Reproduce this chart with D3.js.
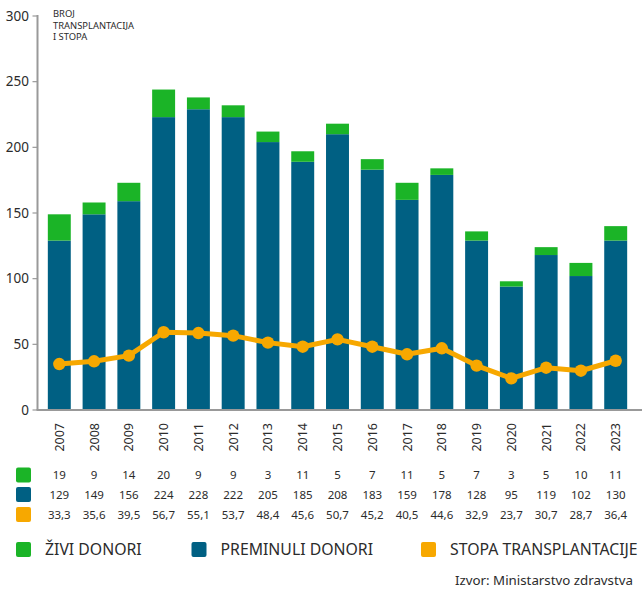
<!DOCTYPE html>
<html>
<head>
<meta charset="utf-8">
<script src="https://cdn.jsdelivr.net/npm/d3@7"></script>
<style>
  html, body { margin: 0; padding: 0; background: #fff; }
  svg { display: block; font-family: "Noto Sans", "Open Sans", sans-serif; }
  text { fill: #2b2b2b; }
</style>
</head>
<body>
<div id="chart"></div>
<script>
/* ── Data ─────────────────────────────────────────────── */
const years = ['2007','2008','2009','2010','2011','2012','2013','2014','2015',
               '2016','2017','2018','2019','2020','2021','2022','2023'];

// heights as drawn in the picture
const deceasedBars = [129, 149, 159, 223, 229, 223, 204, 189, 210, 183, 160, 179, 129, 94, 118, 102, 129];
const livingBars   = [20, 9, 14, 21, 9, 9, 8, 8, 8, 8, 13, 5, 7, 4, 6, 10, 11];
const rateLine     = [35.0, 37.1, 41.4, 59.2, 58.6, 56.6, 51.3, 48.2, 53.8, 48.2, 42.4, 47.0, 33.8, 24.1, 32.2, 29.9, 37.5];

// values printed in the table under the chart
const livingLabels   = ['19','9','14','20','9','9','3','11','5','7','11','5','7','3','5','10','11'];
const deceasedLabels = ['129','149','156','224','228','222','205','185','208','183','159','178','128','95','119','102','130'];
const rateLabels     = ['33,3','35,6','39,5','56,7','55,1','53,7','48,4','45,6','50,7','45,2','40,5','44,6','32,9','23,7','30,7','28,7','36,4'];

const yTicks = [0, 50, 100, 150, 200, 250, 300];
const legendItems = ['ŽIVI DONORI', 'PREMINULI DONORI', 'STOPA TRANSPLANTACIJE'];

const COLORS = {
  living: '#1bb427',
  deceased: '#006083',
  rate: '#f7a800',
  axis: '#999999'
};

/* ── Layout ───────────────────────────────────────────── */
const W = 642, H = 589;
const svg = d3.select('#chart').append('svg')
  .attr('width', W).attr('height', H);

const x = d3.scaleBand().domain(years).range([36, 639]).padding(0.34);
const y = d3.scaleLinear().domain([0, 300]).range([410, 16]);
const axisX = 37.5;

// stacked bars
const bars = svg.append('g');
years.forEach((yr, i) => {
  const d = deceasedBars[i], l = livingBars[i];
  bars.append('rect')
    .attr('x', x(yr)).attr('width', x.bandwidth())
    .attr('y', y(d)).attr('height', y(0) - y(d))
    .attr('fill', COLORS.deceased);
  bars.append('rect')
    .attr('x', x(yr)).attr('width', x.bandwidth())
    .attr('y', y(d + l)).attr('height', y(d) - y(d + l))
    .attr('fill', COLORS.living);
});

// y axis
const yAxis = svg.append('g');
yAxis.append('line')
  .attr('x1', axisX).attr('x2', axisX)
  .attr('y1', y(300) - 1).attr('y2', y(0))
  .attr('stroke', COLORS.axis).attr('stroke-width', 2);
yTicks.forEach(t => {
  yAxis.append('line')
    .attr('x1', axisX - 5).attr('x2', axisX)
    .attr('y1', y(t)).attr('y2', y(t))
    .attr('stroke', COLORS.axis).attr('stroke-width', 1.2);
  yAxis.append('text')
    .attr('x', 29).attr('y', y(t)).attr('dy', '0.35em')
    .attr('text-anchor', 'end').attr('font-size', 13.5)
    .text(t);
});

// x baseline
svg.append('line')
  .attr('x1', axisX - 1).attr('x2', W)
  .attr('y1', y(0)).attr('y2', y(0))
  .attr('stroke', COLORS.axis).attr('stroke-width', 2);

// axis title
const title = svg.append('text').attr('font-size', 9.4);
['BROJ', 'TRANSPLANTACIJA', 'I STOPA'].forEach((s, i) => {
  title.append('tspan').attr('x', 53).attr('y', 17 + i * 11.5).text(s);
});

// rate line
const line = d3.line()
  .x((d, i) => x(years[i]) + x.bandwidth() / 2)
  .y(d => y(d));
svg.append('path')
  .datum(rateLine)
  .attr('d', line)
  .attr('fill', 'none')
  .attr('stroke', COLORS.rate)
  .attr('stroke-width', 5)
  .attr('stroke-linejoin', 'round');
svg.append('g').selectAll('circle')
  .data(rateLine).join('circle')
  .attr('cx', (d, i) => x(years[i]) + x.bandwidth() / 2)
  .attr('cy', d => y(d))
  .attr('r', 6.2)
  .attr('fill', COLORS.rate);

// year labels
years.forEach(yr => {
  svg.append('text')
    .attr('transform', 'translate(' + (x(yr) + x.bandwidth() / 2) + ',423) rotate(-90)')
    .attr('text-anchor', 'end').attr('dy', '0.36em')
    .attr('font-size', 12.5)
    .text(yr);
});

// table rows
const rows = [
  { color: COLORS.living, labels: livingLabels, cy: 475 },
  { color: COLORS.deceased, labels: deceasedLabels, cy: 494.5 },
  { color: COLORS.rate, labels: rateLabels, cy: 514.5 }
];
rows.forEach(r => {
  svg.append('rect')
    .attr('x', 16).attr('y', r.cy - 7.5)
    .attr('width', 15).attr('height', 15).attr('rx', 2)
    .attr('fill', r.color);
  years.forEach((yr, i) => {
    svg.append('text')
      .attr('x', x(yr) + x.bandwidth() / 2).attr('y', r.cy).attr('dy', '0.35em')
      .attr('text-anchor', 'middle').attr('font-size', 11.5)
      .text(r.labels[i]);
  });
});

// legend
const legendX = [16, 191.5, 421];
const legendColors = [COLORS.living, COLORS.deceased, COLORS.rate];
legendItems.forEach((s, i) => {
  svg.append('rect')
    .attr('x', legendX[i]).attr('y', 542)
    .attr('width', 15).attr('height', 15).attr('rx', 2)
    .attr('fill', legendColors[i]);
  svg.append('text')
    .attr('x', legendX[i] + 29).attr('y', 549.5).attr('dy', '0.36em')
    .attr('font-size', 15.8)
    .text(s);
});

// source
svg.append('text')
  .attr('x', 455).attr('y', 585)
  .attr('font-size', 13.3)
  .text('Izvor: Ministarstvo zdravstva');
</script>
</body>
</html>
